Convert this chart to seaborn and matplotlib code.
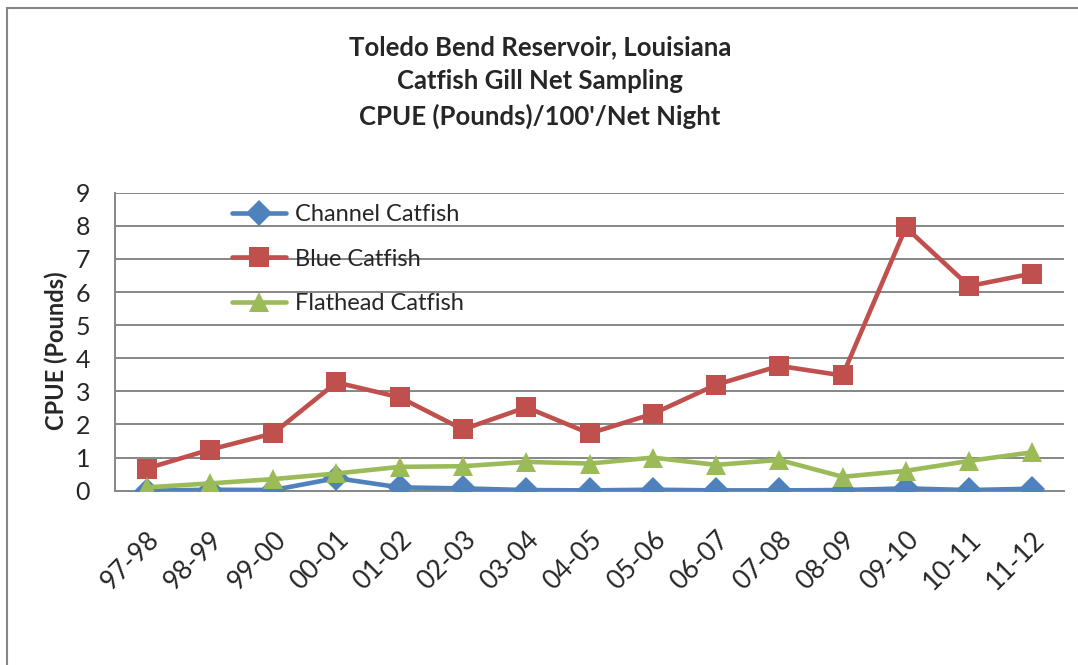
import matplotlib
matplotlib.use('Agg')
from matplotlib import pyplot as plt
from matplotlib.patches import Rectangle
import matplotlib.transforms as mtransforms
import seaborn as sns
import pandas as pd
import numpy as np

seasons = ['97-98', '98-99', '99-00', '00-01', '01-02', '02-03', '03-04', '04-05',
           '05-06', '06-07', '07-08', '08-09', '09-10', '10-11', '11-12']
channel = [0.0, 0.03, 0.02, 0.38, 0.10, 0.07, 0.02, 0.01, 0.03, 0.01, 0.01, 0.02, 0.07, 0.02, 0.06]
blue = [0.67, 1.24, 1.73, 3.27, 2.82, 1.85, 2.52, 1.73, 2.32, 3.20, 3.77, 3.48, 7.95, 6.18, 6.56]
flathead = [0.10, 0.22, 0.35, 0.52, 0.72, 0.74, 0.87, 0.82, 1.00, 0.78, 0.93, 0.42, 0.60, 0.90, 1.16]
species = ['Channel Catfish', 'Blue Catfish', 'Flathead Catfish']

colors = {'Channel Catfish': '#4F81BD', 'Blue Catfish': '#C0504D', 'Flathead Catfish': '#9BBB59'}
markers = {'Channel Catfish': 'D', 'Blue Catfish': 's', 'Flathead Catfish': '^'}
sizes = {'Channel Catfish': 13, 'Blue Catfish': 14, 'Flathead Catfish': 14}

df = pd.DataFrame({
    'pos': list(range(len(seasons))) * 3,
    'cpue': channel + blue + flathead,
    'species': np.repeat(species, len(seasons)),
})

sns.set_style('white')
plt.rcParams['font.family'] = ['Lato', 'DejaVu Sans']

fig = plt.figure(figsize=(10.78, 6.65), dpi=100)
ax = fig.add_axes([0.1067, 0.2621, 0.987 - 0.1067, 0.7102 - 0.2621])

grid_col = '#868686'
for name in species:
    sub = df[df['species'] == name]
    sns.lineplot(data=sub, x='pos', y='cpue', ax=ax, color=colors[name],
                 marker=markers[name], markersize=sizes[name], linewidth=3.3,
                 markeredgewidth=0, label=name, zorder=3)

ax.set_xlim(-0.5, len(seasons) - 0.5)
ax.set_ylim(0, 9)
ax.set_yticks(range(10))
ax.yaxis.grid(True, color=grid_col, linewidth=1.4)
ax.set_axisbelow(True)
for s in ['top', 'right']:
    ax.spines[s].set_visible(False)
for s in ['left', 'bottom']:
    ax.spines[s].set_color(grid_col)
    ax.spines[s].set_linewidth(1.4)

ax.set_xticks(range(len(seasons)))
ax.set_xticklabels(seasons, rotation=45, ha='right', rotation_mode='anchor', fontsize=19)
offset = mtransforms.ScaledTranslation(12 / 100, 0, fig.dpi_scale_trans)
for lab in ax.get_xticklabels():
    lab.set_transform(lab.get_transform() + offset)
ax.set_xticks(np.arange(-0.5, len(seasons)), minor=True)
ax.tick_params(axis='x', which='major', length=0, pad=26)
ax.tick_params(axis='x', which='minor', length=6, width=1.4, color=grid_col, direction='out')
ax.tick_params(axis='y', length=6, width=1.4, color=grid_col, direction='out', labelsize=18, pad=12)
ax.set_xlabel('')
ax.set_ylabel('CPUE (Pounds)', fontsize=17, fontweight='bold')
ax.yaxis.set_label_coords(-0.050, 0.47)

handles, labels = ax.get_legend_handles_labels()
ax.legend(handles, labels, loc='upper left', bbox_to_anchor=(0.108, 1.01), frameon=False,
          fontsize=17, handlelength=2.3, handletextpad=0.4, labelspacing=1.0,
          borderaxespad=0.2)

fig.text(0.501, 0.877, "Toledo Bend Reservoir, Louisiana\nCatfish Gill Net Sampling\nCPUE (Pounds)/100'/Net Night",
         ha='center', va='center', fontsize=18.5, fontweight='bold', linespacing=1.5)

fig.patches.append(Rectangle((7 / 1078, -0.1), 1.2, 1.1 - 8 / 665, transform=fig.transFigure,
                             fill=False, edgecolor=grid_col, linewidth=1.5, zorder=0))

fig.savefig('out.png', dpi=100, facecolor='white')
